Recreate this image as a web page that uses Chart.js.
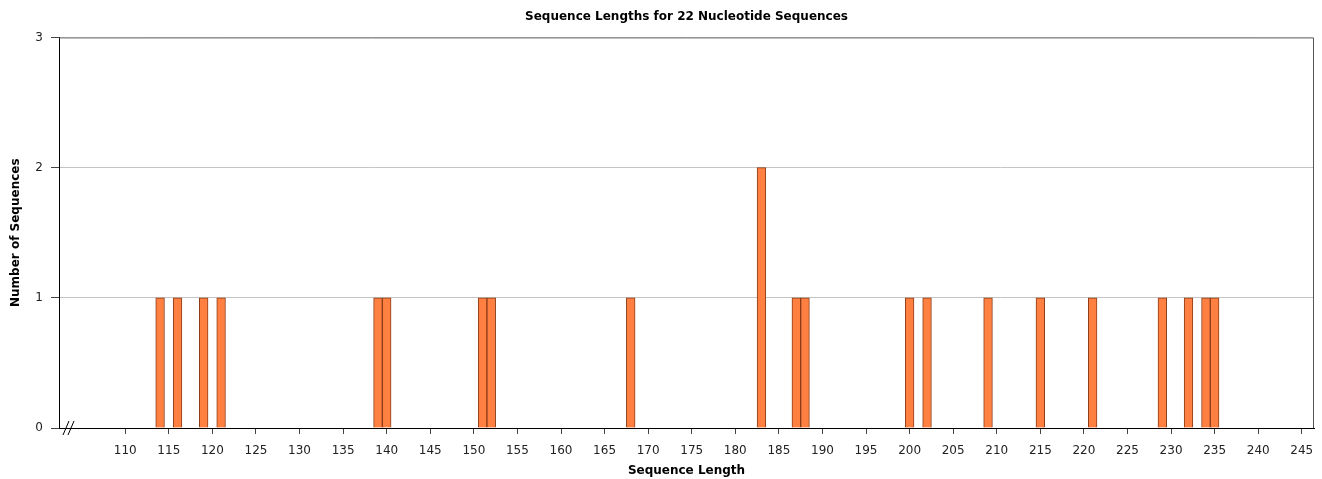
<!DOCTYPE html>
<html>
<head>
<meta charset="utf-8">
<script src="https://cdn.jsdelivr.net/npm/chart.js@4/dist/chart.umd.min.js"></script>
<style>
  html, body { margin: 0; padding: 0; background: #fff; }
  #wrap { width: 1322px; height: 479px; }
</style>
</head>
<body>
<div id="wrap"><canvas id="grafico"></canvas></div>
<script>
// comprimentos das sequencias e quantas tem cada um
const lengths = [114, 116, 119, 121, 139, 140, 151, 152, 168, 183, 187, 188, 200, 202, 209, 215, 221, 229, 232, 234, 235];
const counts  = [1, 1, 1, 1, 1, 1, 1, 1, 1, 2, 1, 1, 1, 1, 1, 1, 1, 1, 1, 1, 1];
const xTicks = [110, 115, 120, 125, 130, 135, 140, 145, 150, 155, 160, 165, 170, 175, 180, 185, 190, 195, 200, 205, 210, 215, 220, 225, 230, 235, 240, 245];
const yTicks = [0, 1, 2, 3];

Chart.defaults.font.family = "'DejaVu Sans', sans-serif";
Chart.defaults.font.size = 12;
Chart.defaults.color = "#333";

// moldura (topo e direita) e a marca de quebra no eixo x
const framePlugin = {
  id: "frame",
  afterDraw(chart) {
    const { ctx, chartArea: a } = chart;
    ctx.save();
    ctx.strokeStyle = "#555";
    ctx.lineWidth = 1;
    ctx.beginPath();
    ctx.moveTo(a.left, a.top + 0.5);
    ctx.lineTo(a.right - 0.5, a.top + 0.5);
    ctx.lineTo(a.right - 0.5, a.bottom);
    ctx.stroke();
    ctx.strokeStyle = "#000";
    ctx.beginPath();
    ctx.moveTo(a.left + 4, a.bottom + 7);
    ctx.lineTo(a.left + 10, a.bottom - 7);
    ctx.moveTo(a.left + 9, a.bottom + 7);
    ctx.lineTo(a.left + 15, a.bottom - 7);
    ctx.stroke();
    ctx.restore();
  }
};

let chartInstance = new Chart(document.getElementById("grafico"), {
  type: "bar",
  data: {
    datasets: [{
      label: "Sequences",
      data: lengths.map((x, i) => ({ x: x, y: counts[i] })),
      backgroundColor: "rgb(255,128,64)",
      borderColor: "rgb(140,60,25)",
      borderWidth: 1,
      barPercentage: 1,
      categoryPercentage: 1,
    }],
  },
  options: {
    responsive: true,
    maintainAspectRatio: false,
    animation: false,
    layout: { padding: { left: 0, right: 8, top: 0, bottom: 0 } },
    plugins: {
      legend: { display: false },
      tooltip: { enabled: false },
      title: {
        display: true,
        fullSize: false,
        text: "Sequence Lengths for 22 Nucleotide Sequences",
        color: "#000",
        font: { size: 12, weight: "bold" },
        padding: { top: 10, bottom: 13 },
      },
    },
    scales: {
      x: {
        type: "linear",
        min: 102.4,
        max: 246.4,
        offset: false,
        grid: { offset: false, drawOnChartArea: false, drawTicks: true, tickLength: 6, tickColor: "#444" },
        border: { color: "#000", width: 1 },
        afterBuildTicks: (scale) => { scale.ticks = xTicks.map(v => ({ value: v })); },
        afterFit: (scale) => { scale.height = 51; scale.paddingLeft = 0; scale.paddingRight = 0; },
        ticks: { autoSkip: false, maxRotation: 0, padding: 10, color: "#222" },
        title: {
          display: true,
          text: "Sequence Length",
          color: "#000",
          font: { size: 12, weight: "bold" },
          padding: { top: 0, bottom: 1 },
        },
      },
      y: {
        min: 0,
        max: 3,
        afterBuildTicks: (scale) => { scale.ticks = yTicks.map(v => ({ value: v })); },
        afterFit: (scale) => { scale.width = 59; },
        grid: {
          color: (c) => (c.tick && (c.tick.value === 1 || c.tick.value === 2)) ? "#c4c4c4" : "rgba(0,0,0,0)",
          tickColor: "#444",
          tickLength: 8,
        },
        border: { color: "#000", width: 1 },
        ticks: { padding: 8, color: "#222" },
        title: {
          display: true,
          text: "Number of Sequences",
          color: "#000",
          font: { size: 12, weight: "bold" },
          padding: { top: 9, bottom: 0 },
        },
      },
    },
  },
  plugins: [framePlugin],
});
</script>
</body>
</html>
